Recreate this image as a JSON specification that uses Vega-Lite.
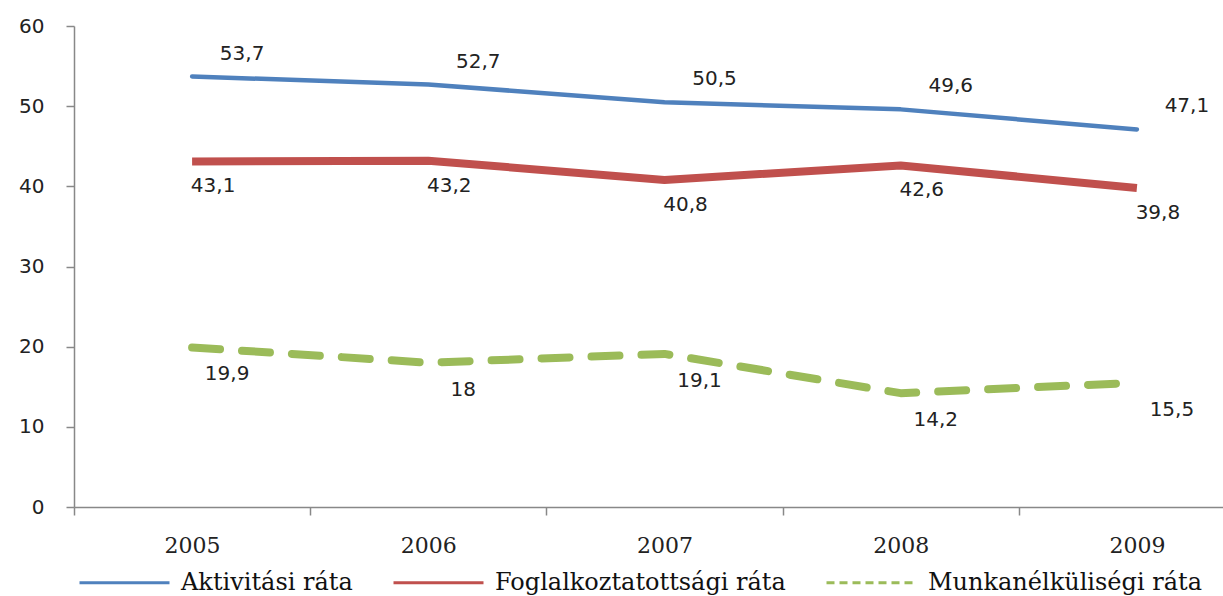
{
  "$schema": "https://vega.github.io/schema/vega-lite/v6.json",
  "width": 1149,
  "height": 481,
  "autosize": {"type": "none"},
  "padding": {"left": 74, "top": 26, "right": 0, "bottom": 89},
  "config": {
    "view": {"stroke": null},
    "locale": {"number": {"decimal": ",", "thousands": " ", "grouping": [3], "currency": ["", ""]}},
    "axis": {"grid": false, "domainColor": "#888888", "tickColor": "#888888", "domainWidth": 1.5, "tickWidth": 1.5, "labelColor": "#222222"}
  },
  "data": {
    "values": [
      {"year": "2005", "series": "Aktivitási ráta", "value": 53.7},
      {"year": "2006", "series": "Aktivitási ráta", "value": 52.7},
      {"year": "2007", "series": "Aktivitási ráta", "value": 50.5},
      {"year": "2008", "series": "Aktivitási ráta", "value": 49.6},
      {"year": "2009", "series": "Aktivitási ráta", "value": 47.1},
      {"year": "2005", "series": "Foglalkoztatottsági ráta", "value": 43.1},
      {"year": "2006", "series": "Foglalkoztatottsági ráta", "value": 43.2},
      {"year": "2007", "series": "Foglalkoztatottsági ráta", "value": 40.8},
      {"year": "2008", "series": "Foglalkoztatottsági ráta", "value": 42.6},
      {"year": "2009", "series": "Foglalkoztatottsági ráta", "value": 39.8},
      {"year": "2005", "series": "Munkanélküliségi ráta", "value": 19.9},
      {"year": "2006", "series": "Munkanélküliségi ráta", "value": 18},
      {"year": "2007", "series": "Munkanélküliségi ráta", "value": 19.1},
      {"year": "2008", "series": "Munkanélküliségi ráta", "value": 14.2},
      {"year": "2009", "series": "Munkanélküliségi ráta", "value": 15.5}
    ]
  },
  "encoding": {
    "x": {
      "field": "year", "type": "ordinal",
      "scale": {"range": [0, 1181], "paddingInner": 0, "paddingOuter": 0},
      "axis": {"title": null, "labelAngle": 0, "tickBand": "extent", "labelFont": "DejaVu Serif", "labelFontSize": 22, "labelPadding": 20, "tickSize": 8}
    },
    "y": {
      "field": "value", "type": "quantitative",
      "scale": {"domain": [0, 60]},
      "axis": {"title": null, "values": [0, 10, 20, 30, 40, 50, 60], "tickSize": 8, "labelFont": "DejaVu Sans", "labelFontSize": 20, "labelPadding": 22}
    },
    "color": {
      "field": "series", "type": "nominal",
      "scale": {"domain": ["Aktivitási ráta", "Foglalkoztatottsági ráta", "Munkanélküliségi ráta"], "range": ["#4F81BD", "#C0504D", "#9BBB59"]},
      "legend": {
        "title": null, "orient": "none", "legendX": 4, "legendY": 510, "direction": "horizontal",
        "symbolType": "stroke", "symbolSize": 8100, "symbolStrokeWidth": 3,
        "labelFont": "DejaVu Serif", "labelFontSize": 24, "labelColor": "#111111", "labelOffset": 10,
        "columnPadding": 34, "padding": 0, "labelLimit": 400,
        "encode": {"symbols": {"update": {"strokeDash": {"signal": "datum.value === 'Munkanélküliségi ráta' ? [8, 5] : [1, 0]"}}}}
      }
    }
  },
  "layer": [
    {
      "transform": [{"filter": "datum.series === 'Aktivitási ráta'"}],
      "mark": {"type": "line", "strokeCap": "round", "strokeJoin": "round", "strokeWidth": 4.5}
    },
    {
      "transform": [{"filter": "datum.series === 'Foglalkoztatottsági ráta'"}],
      "mark": {"type": "line", "strokeCap": "butt", "strokeJoin": "round", "strokeWidth": 8}
    },
    {
      "transform": [{"filter": "datum.series === 'Munkanélküliségi ráta'"}],
      "mark": {"type": "line", "strokeCap": "round", "strokeJoin": "round", "strokeWidth": 8, "strokeDash": [28, 22]}
    },
    {
      "transform": [{"filter": "datum.series === 'Aktivitási ráta'"}],
      "mark": {"type": "text", "dx": 50, "dy": -23, "font": "DejaVu Sans", "fontSize": 20, "color": "#222222"},
      "encoding": {"text": {"field": "value", "type": "quantitative", "format": "~f"}, "color": {"value": "#222222"}}
    },
    {
      "transform": [{"filter": "datum.series === 'Foglalkoztatottsági ráta'"}],
      "mark": {"type": "text", "dx": 21, "dy": 25, "font": "DejaVu Sans", "fontSize": 20, "color": "#222222"},
      "encoding": {"text": {"field": "value", "type": "quantitative", "format": "~f"}, "color": {"value": "#222222"}}
    },
    {
      "transform": [{"filter": "datum.series === 'Munkanélküliségi ráta'"}],
      "mark": {"type": "text", "dx": 35, "dy": 27, "font": "DejaVu Sans", "fontSize": 20, "color": "#222222"},
      "encoding": {"text": {"field": "value", "type": "quantitative", "format": "~f"}, "color": {"value": "#222222"}}
    }
  ]
}
